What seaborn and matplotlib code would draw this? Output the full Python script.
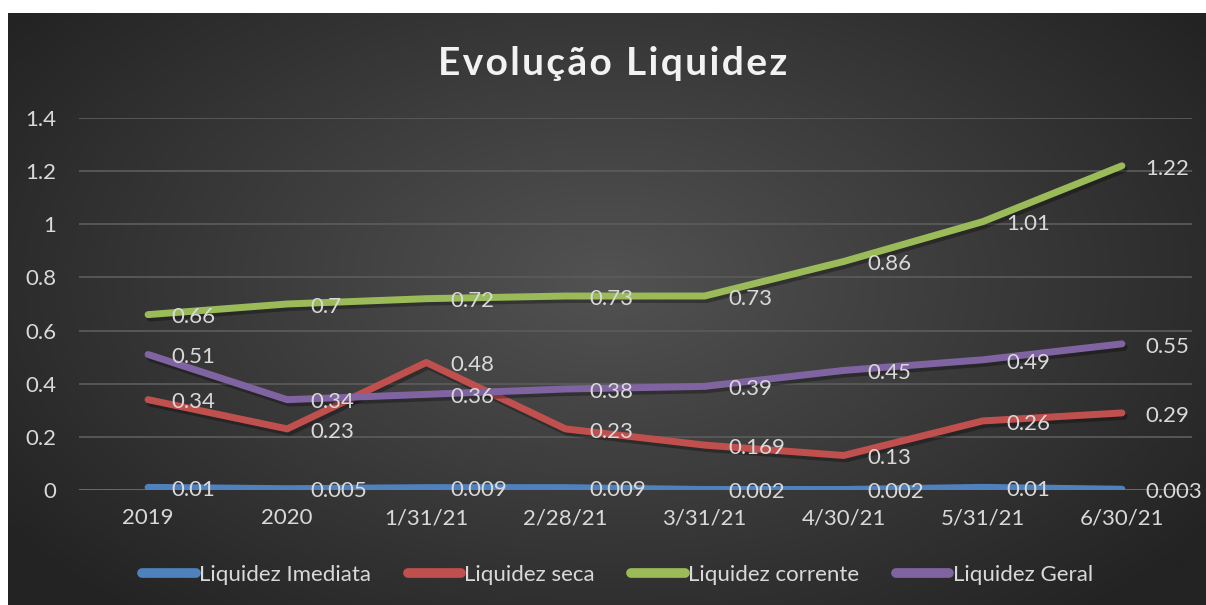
import numpy as np
import pandas as pd
import matplotlib
matplotlib.use("Agg")
import matplotlib.pyplot as plt
import matplotlib.patheffects as pe
import seaborn as sns

# data
periodos = ["2019", "2020", "1/31/21", "2/28/21", "3/31/21", "4/30/21", "5/31/21", "6/30/21"]
imediata = [0.01, 0.005, 0.009, 0.009, 0.002, 0.002, 0.01, 0.003]
seca = [0.34, 0.23, 0.48, 0.23, 0.169, 0.13, 0.26, 0.29]
corrente = [0.66, 0.7, 0.72, 0.73, 0.73, 0.86, 1.01, 1.22]
geral = [0.51, 0.34, 0.36, 0.38, 0.39, 0.45, 0.49, 0.55]
series = ["Liquidez Imediata", "Liquidez seca", "Liquidez corrente", "Liquidez Geral"]
cores = ["#4F81BD", "#C0504D", "#9BBB59", "#8064A2"]

df = pd.DataFrame({
    "periodo": periodos * 4,
    "valor": imediata + seca + corrente + geral,
    "serie": np.repeat(series, len(periodos)),
})

sns.set_style("dark")
plt.rcParams["font.family"] = ["Lato", "DejaVu Sans"]
txt = "#D9D9D9"
fs = 16

fig = plt.figure(figsize=(12.06, 6.05), dpi=100)
fig.patch.set_facecolor("white")

# dark radial gradient background
bg = fig.add_axes([8 / 1206, 0, 1198 / 1206, 592 / 605])
yy, xx = np.mgrid[0:1:300j, 0:1:600j]
r = np.sqrt(((xx - 0.5) / 0.62) ** 2 + ((yy - 0.55) / 0.75) ** 2)
r = np.clip(r, 0, 1)
bg.imshow(r, cmap=matplotlib.colors.LinearSegmentedColormap.from_list("g", ["#525252", "#232323"]),
          aspect="auto", extent=[0, 1, 0, 1], origin="lower")
bg.axis("off")

ax = fig.add_axes([78.5 / 1206, 115 / 605, 1113 / 1206, 372 / 605])
ax.patch.set_alpha(0)

sns.lineplot(data=df, x="periodo", y="valor", hue="serie", hue_order=series,
             palette=cores, linewidth=5, sort=False, ax=ax, legend=False,
             solid_capstyle="round")
for ln in ax.get_lines():
    ln.set_path_effects([pe.SimpleLineShadow(offset=(1.5, -2.5), shadow_color="black", alpha=0.3),
                         pe.Normal()])
    ln.set_zorder(3)

for vals in [imediata, seca, corrente, geral]:
    for i, v in enumerate(vals):
        ax.annotate(f"{v:g}", (i, v), xytext=(17, -2), textcoords="offset points",
                    ha="left", va="center", color=txt, fontsize=fs, zorder=5)

ax.set_xlim(-0.5, 7.5)
ax.set_ylim(0, 1.4)
ax.set_yticks([0, 0.2, 0.4, 0.6, 0.8, 1, 1.2, 1.4])
ax.set_yticklabels(["0", "0.2", "0.4", "0.6", "0.8", "1", "1.2", "1.4"])
ax.grid(axis="y", color="#5a5a5a", linewidth=1.3)
ax.grid(axis="x", visible=False)
ax.tick_params(axis="y", colors=txt, labelsize=fs, length=0, pad=16)
ax.tick_params(axis="x", colors=txt, labelsize=fs, length=0, pad=13)
ax.set_xlabel("")
ax.set_ylabel("")
for s in ax.spines.values():
    s.set_visible(False)
ax.axhline(0, color="#6a6a6a", linewidth=1.3, zorder=1)

titulo = "\u200a".join("Evolução Liquidez")
fig.text(0.508, 0.895, titulo, ha="center", va="center",
         color="#F2F2F2", fontsize=28, fontweight="bold")

handles = [plt.Line2D([], [], color=c, linewidth=7, solid_capstyle="round") for c in cores]
fig.legend(handles, series, loc="center", bbox_to_anchor=(0.512, 0.05), ncol=4,
           frameon=False, fontsize=fs, labelcolor=txt, handlelength=2.4,
           handletextpad=0.15, columnspacing=1.65)

fig.savefig("out.png", dpi=100)
